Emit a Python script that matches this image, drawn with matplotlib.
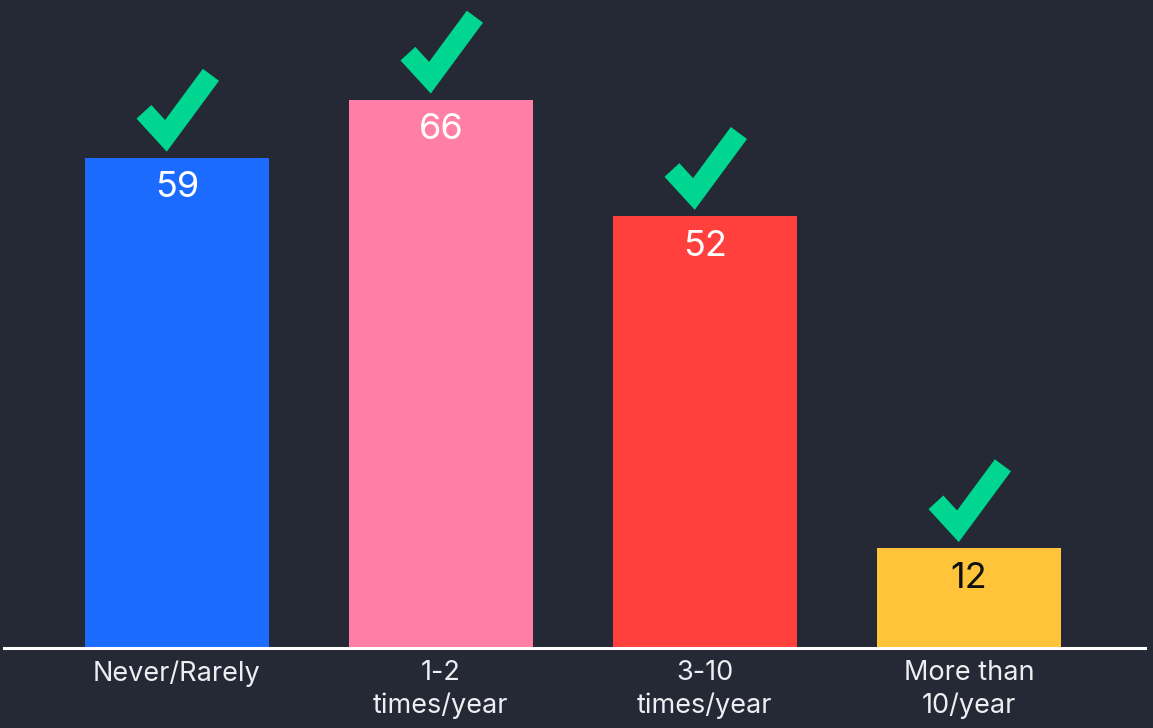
import matplotlib.pyplot as plt
import numpy as np

categories = ["Never/Rarely", "1-2\ntimes/year", "3-10\ntimes/year", "More than\n10/year"]
values = [59, 66, 52, 12]
bar_colors = ["#1C6BFF", "#FF7FA7", "#FF403D", "#FFC43A"]
label_colors = ["white", "white", "white", "#111111"]

bg = "#242935"
green = "#00D68F"

plt.rcParams['font.family'] = ['Inter', 'DejaVu Sans']

fig = plt.figure(figsize=(11.53, 7.28), dpi=100, facecolor=bg)
ax = fig.add_axes([4 / 1153, 80 / 728, 1141 / 1153, 648 / 728])
ax.set_facecolor(bg)

x = np.arange(len(values))
ax.bar(x, values, width=0.697, color=bar_colors)
ax.set_xlim(-0.655, 3.667)
ax.set_ylim(0, 78.0)

# px -> data units
px_x = 1 / 264
px_y = 1 / 8.305

for xi, v, lc in zip(x, values, label_colors):
    ax.text(xi, v - 30 * px_y, str(v), ha="center", va="center",
            color=lc, fontsize=26)
    # check mark above bar
    cx = [xi - 33 * px_x, xi - 11 * px_x, xi + 34 * px_x]
    cy = [v + 46 * px_y, v + 22 * px_y, v + 83 * px_y]
    ax.plot(cx, cy, color=green, lw=14.5, solid_capstyle="butt",
            solid_joinstyle="miter", clip_on=False)

for s in ["top", "right", "left"]:
    ax.spines[s].set_visible(False)
ax.spines["bottom"].set_color("white")
ax.spines["bottom"].set_linewidth(2.2)
ax.set_yticks([])
ax.set_xticks(x)
ax.set_xticklabels(categories, color="#EEEEF2", fontsize=19.5, linespacing=1.3)
ax.tick_params(axis="x", length=0, pad=9)

fig.savefig("out.png", dpi=100, facecolor=bg)
